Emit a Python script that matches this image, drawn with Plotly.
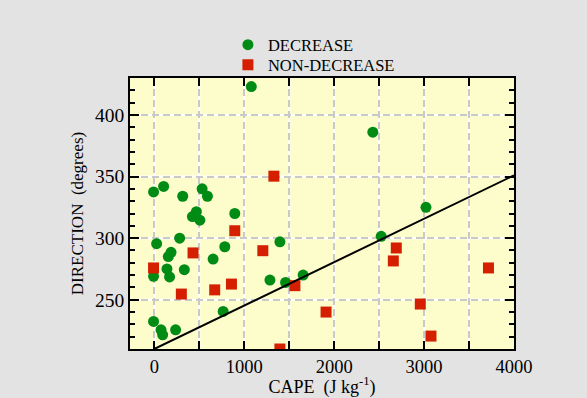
import plotly.graph_objects as go

# DECREASE (green circles): CAPE (J/kg), DIRECTION (deg)
dec_cape = [1079, 2430, 3021, 2523, 1655, 1460, 1286, 1397, 766, 784, 654, 895,
            468, 424, 507, 532, 591, 316, 104, -8, 26, 282, 186, 156, 141, 334,
            -8, 170, -8, 75, 93, 237]
dec_dir = [423, 386, 325, 301.5, 270, 264, 266, 297, 240.5, 293, 283, 320,
           321.5, 317.5, 314.6, 340, 334, 334, 342, 337.5, 295.5, 300, 288.5, 285, 275, 274.4,
           269, 268.5, 232.4, 225.6, 221.5, 225.6]

# NON-DECREASE (red squares)
non_cape = [1330, 895, 431, -8, 301, 672, 858, 1207, 1564, 1397, 1910, 2691,
            2658, 2958, 3077, 3716]
non_dir = [350.3, 306, 288, 275.8, 254.6, 258, 262.7, 289.8, 261.4, 210, 240, 292,
           281.5, 246.5, 220.5, 275.8]

# reference line
line_cape = [0, 4000]
line_dir = [210, 351]

x_ticks = [0, 1000, 2000, 3000, 4000]
x_grid = [0, 500, 1000, 1500, 2000, 2500, 3000, 3500]
y_ticks = [250, 300, 350, 400]

FONT = "Liberation Serif"
GREEN = "#008c14"
RED = "#d42000"
GRID = "#c9c9c9"

fig = go.Figure()
fig.add_trace(go.Scatter(x=dec_cape, y=dec_dir, mode="markers", name="DECREASE",
                         legend="legend",
                         marker=dict(symbol="circle", size=11, color=GREEN)))
fig.add_trace(go.Scatter(x=non_cape, y=non_dir, mode="markers", name="NON-DECREASE",
                         legend="legend2",
                         marker=dict(symbol="square", size=11, color=RED)))
fig.add_trace(go.Scatter(x=line_cape, y=line_dir, mode="lines", showlegend=False,
                         line=dict(color="black", width=2), cliponaxis=True))

shapes = []
for gx in x_grid:
    shapes.append(dict(type="line", xref="x", yref="paper", x0=gx, x1=gx, y0=0, y1=1,
                       layer="below", line=dict(color="white", width=2)))
for gy in y_ticks:
    shapes.append(dict(type="line", xref="paper", yref="y", x0=0, x1=1, y0=gy, y1=gy,
                       layer="below", line=dict(color="white", width=2)))

legend_common = dict(x=0.255, xanchor="left", yanchor="middle",
                     bgcolor="rgba(0,0,0,0)", font=dict(family=FONT, size=16.5),
                     itemsizing="trace")

fig.update_layout(
    width=587, height=398,
    margin=dict(l=130, r=73, t=78, b=49),
    paper_bgcolor="#e2e3e2",
    plot_bgcolor="#fdfdcc",
    font=dict(family=FONT, color="black", size=17),
    shapes=shapes,
    legend=dict(y=1.1218, **legend_common),
    legend2=dict(y=1.048, **legend_common),
    xaxis=dict(range=[-270, 4000], tickvals=x_ticks, ticks="inside", ticklen=8,
               tickwidth=1.5, tickcolor="black", showline=True, linecolor="black",
               linewidth=1.5, mirror="ticks", zeroline=False, automargin=False,
               showgrid=True, gridcolor=GRID, gridwidth=2, griddash="7px,4px",
               minor=dict(dtick=500, tick0=0, ticks="inside", ticklen=8, tickwidth=1.5,
                          tickcolor="black", showgrid=True, gridcolor=GRID, gridwidth=2,
                          griddash="7px,4px"),
               tickfont=dict(size=18.5),
               title=dict(text="CAPE  (J kg<sup>-1</sup>)", font=dict(size=18), standoff=3)),
    yaxis=dict(range=[210, 430], tickvals=y_ticks, ticks="inside", ticklen=9,
               tickwidth=1.5, tickcolor="black", showline=True, linecolor="black",
               linewidth=1.5, mirror="ticks", zeroline=False, automargin=False,
               showgrid=True, gridcolor=GRID, gridwidth=2, griddash="7px,4px",
               minor=dict(dtick=10, tick0=0, ticks="inside", ticklen=5, tickwidth=1.5,
                          tickcolor="black", showgrid=False),
               tickfont=dict(size=19.5),
               title=dict(text="DIRECTION  (degrees)", font=dict(size=17), standoff=7)),
)

fig.write_html("out.html")
